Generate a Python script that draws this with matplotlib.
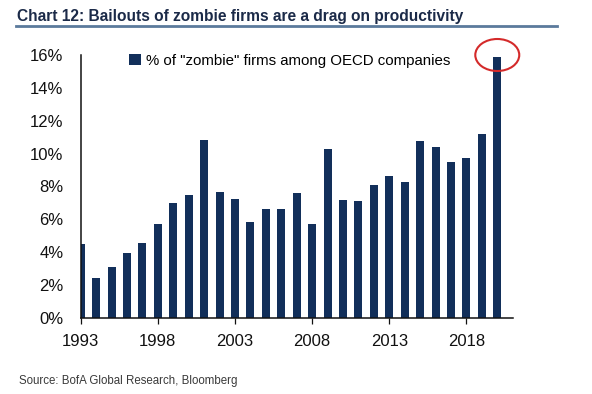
import matplotlib.pyplot as plt
from matplotlib.patches import Ellipse
from matplotlib.lines import Line2D
from matplotlib.ticker import FuncFormatter

years = list(range(1993, 2021))
zombie_pct = [4.47, 2.44, 3.07, 3.94, 4.53, 5.69, 6.96, 7.49, 10.84, 7.65,
              7.21, 5.83, 6.62, 6.62, 7.59, 5.69, 10.27, 7.15, 7.11, 8.10,
              8.61, 8.26, 10.74, 10.38, 9.46, 9.71, 11.21, 15.90]
tick_years = [1993, 1998, 2003, 2008, 2013, 2018]
y_ticks = [0, 2, 4, 6, 8, 10, 12, 14, 16]

title = "Chart 12: Bailouts of zombie firms are a drag on productivity"
legend_label = '% of "zombie" firms among OECD companies'
source = "Source: BofA Global Research, Bloomberg"

plt.rcParams['font.family'] = ['Liberation Sans', 'DejaVu Sans']

bar_color = '#122f5a'

fig = plt.figure(figsize=(5.92, 3.94), dpi=100)
ax = fig.add_axes([80.7 / 592, 1 - 317.7 / 394, (512.7 - 80.7) / 592, (317.7 - 55.0) / 394])

ax.bar(years, zombie_pct, width=0.52, color=bar_color, label=legend_label)
ax.set_xlim(1993, 2021)
ax.set_ylim(0, 16)

ax.set_xticks(tick_years)
ax.set_xticklabels([str(y) for y in tick_years])
ax.set_yticks(y_ticks)
ax.yaxis.set_major_formatter(FuncFormatter(lambda v, p: f"{int(v)}%"))
ax.tick_params(axis='y', length=0, pad=12.5, labelsize=12, colors='#111111')
ax.tick_params(axis='x', length=4, width=0.9, direction='out', pad=8, labelsize=12,
               colors='#111111')

for s in ['top', 'right']:
    ax.spines[s].set_visible(False)
for s in ['left', 'bottom']:
    ax.spines[s].set_linewidth(1.1)
    ax.spines[s].set_color('#111111')

leg = ax.legend(loc='upper left', bbox_to_anchor=(0.097, 1.027), frameon=False,
                fontsize=10.8, handlelength=0.8, handleheight=0.8, handletextpad=0.35,
                borderaxespad=0)

# red circle around the latest bar
circle = Ellipse((years[-1], zombie_pct[-1] + 0.1), width=2.85, height=1.95,
                 fill=False, edgecolor='#d42a2a', linewidth=1.5, clip_on=False)
ax.add_patch(circle)

fig.text(17 / 592, 1 - 16 / 394, title, fontsize=11.2, fontweight='bold',
         color='#1b2a48', va='center', ha='left')
fig.add_artist(Line2D([16 / 592, 557 / 592], [1 - 26 / 394, 1 - 26 / 394],
                      color='#5b7a9c', linewidth=2))
fig.text(19 / 592, 1 - 381 / 394, source, fontsize=8.3, color='#3a3a3a',
         va='center', ha='left')

fig.savefig('out.png', dpi=100)
